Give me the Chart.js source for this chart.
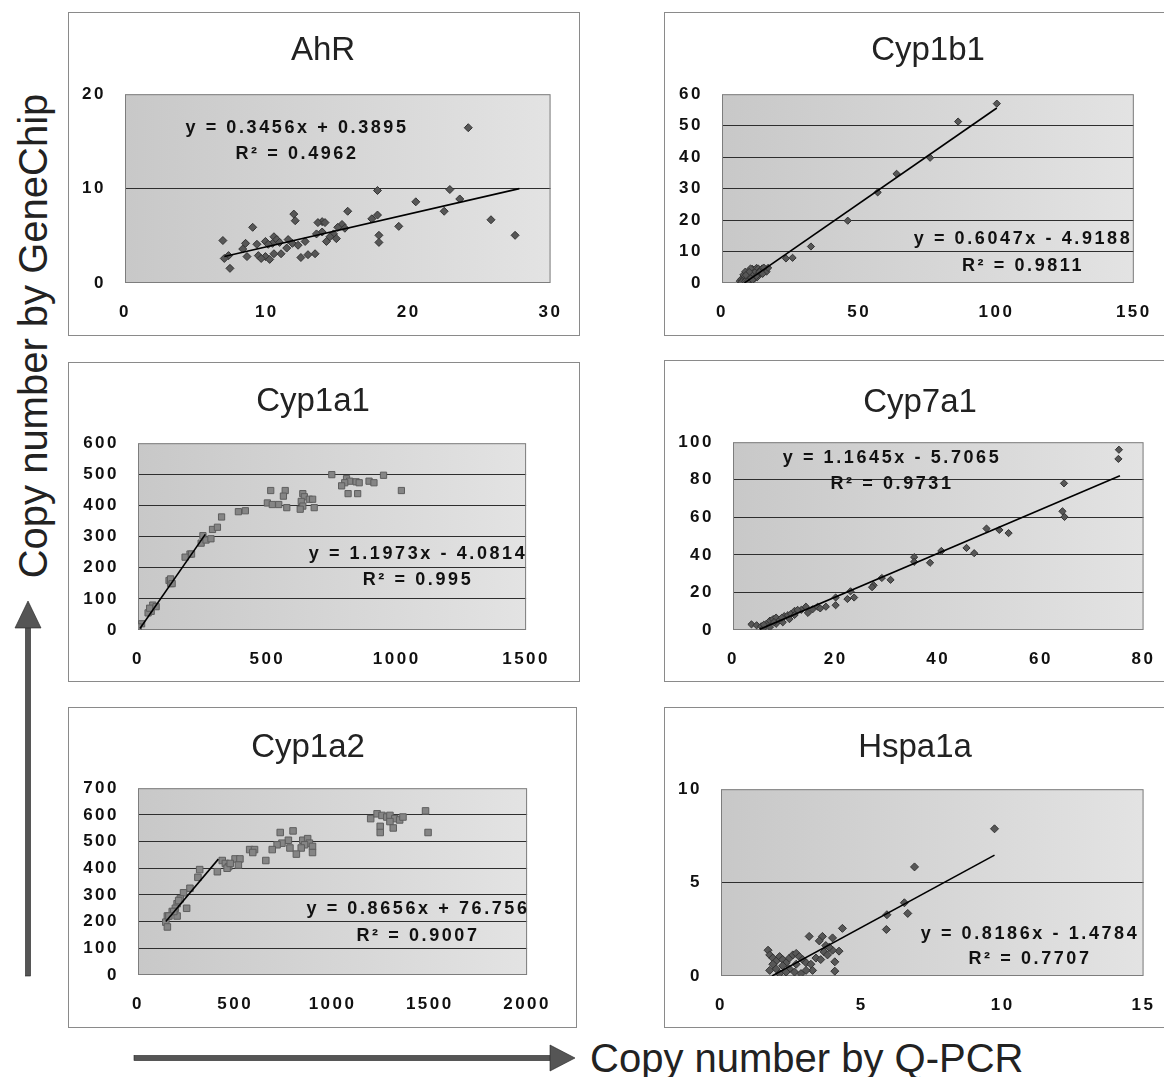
<!DOCTYPE html>
<html lang="en">
<head>
  <meta charset="UTF-8">
  <title>Copy number: GeneChip vs Q-PCR</title>

  <!-- Chart.js -->
  <script src="https://cdn.jsdelivr.net/npm/chart.js"></script>

  <style>
    body {
      margin: 0;
      width: 1164px;
      height: 1077px;
      position: relative;
      overflow: hidden;
      background: #fff;
      font-family: "Liberation Sans", Arial, sans-serif;
    }
    .frame { position: absolute; border: 1px solid #8a8a8a; }
    canvas { position: absolute; }
    .title {
      position: absolute;
      font-size: 33px;
      color: #222;
      line-height: 1;
      white-space: nowrap;
      transform: translate(-50%, -50%);
    }
    .eq {
      position: absolute;
      font-size: 18px;
      font-weight: bold;
      letter-spacing: 2.6px;
      color: #111;
      line-height: 1;
      white-space: nowrap;
      transform: translate(-50%, -50%);
    }
    .axis-label {
      position: absolute;
      font-size: 40px;
      color: #222;
      line-height: 1;
      white-space: nowrap;
    }
  </style>
</head>

<body>

<svg width="1164" height="1077" style="position:absolute;left:0;top:0;">
  <rect x="25.5" y="626" width="5" height="350" fill="#555" stroke="#222" stroke-width="0.6"/>
  <polygon points="15,628 41,628 28,601" fill="#555" stroke="#222" stroke-width="0.6"/>
  <rect x="134" y="1055.5" width="418" height="5" fill="#555" stroke="#222" stroke-width="0.6"/>
  <polygon points="550,1045 550,1071 575,1058" fill="#555" stroke="#222" stroke-width="0.6"/>
</svg>

<div class="axis-label" style="left:33px; top:336px; transform:translate(-50%,-50%) rotate(-90deg);">Copy number by GeneChip</div>
<div class="axis-label" style="left:590px; top:1058px; transform:translate(0,-50%);">Copy number by Q-PCR</div>

<script>
// ---- data ----
const genes = ['AhR', 'Cyp1b1', 'Cyp1a1', 'Cyp7a1', 'Cyp1a2', 'Hspa1a'];

const ahrX = [24.2, 17.8, 22.9, 23.6, 20.5, 22.5, 25.8, 27.5, 19.3, 17.8, 17.4, 17.9, 17.9, 15.7, 15.3, 15.0, 14.7, 14.45,
  14.2, 13.9, 13.6, 14.1, 13.9, 13.5, 11.9, 12.0, 12.7, 11.5, 11.4, 13.4, 12.9, 12.4, 11.0, 10.5, 10.7, 10.4, 9.9, 10.1,
  10.5, 9.9, 9.4, 9.6, 9.0, 9.3, 8.5, 8.3, 8.6, 6.9, 7.3, 7.0, 7.4, 10.2, 11.8, 15.5, 14.9, 12.2, 10.9];
const ahrY = [16.45, 9.8, 9.9, 8.9, 8.6, 7.6, 6.7, 5.05, 6.0, 7.2, 6.8, 5.05, 4.3, 7.6, 6.2, 5.9, 5.2, 4.9,
  4.4, 6.5, 6.4, 6.4, 5.4, 5.2, 7.3, 6.6, 4.4, 4.6, 3.7, 3.1, 3.0, 2.7, 3.1, 4.9, 4.6, 4.2, 4.4, 4.1,
  3.1, 2.8, 2.9, 2.6, 5.9, 4.1, 4.2, 3.6, 2.8, 4.5, 2.9, 2.6, 1.55, 2.5, 4.2, 5.8, 4.7, 4.0, 4.3];

const cyp1b1X = [100.1, 86.0, 75.8, 63.6, 56.7, 45.8, 32.4, 23.3, 25.7,
  6.5, 7.0, 7.5, 8.0, 8.2, 8.8, 9.0, 9.3, 9.6, 10.0, 10.2, 10.5, 10.8, 11.0, 11.3, 11.6, 12.0, 12.3, 12.6, 13.0,
  13.4, 13.8, 14.2, 14.6, 15.0, 15.5, 16.2, 7.8, 9.8, 11.8, 8.5, 10.4, 12.8, 16.8,
  7.2, 8.4, 9.2, 10.6, 11.4, 12.2, 13.2, 14.0, 15.2, 9.9, 8.7, 11.1, 12.5, 13.6, 14.8];
const cyp1b1Y = [57.0, 51.3, 39.8, 34.7, 28.8, 19.8, 11.6, 7.8, 8.0,
  0.6, 1.2, 0.8, 1.5, 2.2, 1.0, 2.8, 1.8, 3.2, 2.4, 1.2, 3.8, 2.8, 4.5, 2.0, 3.4, 4.0, 2.6, 4.8, 3.2,
  4.2, 2.8, 3.8, 4.6, 3.4, 4.2, 3.6, 2.6, 0.8, 1.4, 3.6, 4.6, 1.8, 4.8,
  0.3, 0.5, 0.4, 1.6, 3.0, 3.6, 4.6, 4.1, 4.9, 3.5, 2.5, 1.0, 2.2, 3.5, 2.9];

const cyp1a1X = [749, 806, 818, 799, 787, 843, 855, 893, 912, 949, 1018, 812, 849, 513, 569, 562, 637, 643, 662, 675,
  631, 637, 627, 681, 500, 519, 544, 575, 388, 415, 323, 288, 307, 251, 244, 263, 282, 201, 182, 207,
  120, 126, 126, 132, 57, 51, 39, 45, 70, 14, 1];
const cyp1a1Y = [499, 486, 478, 473, 463, 476, 473, 478, 473, 497, 448, 438, 438, 448, 448, 430, 438, 428, 420, 420,
  413, 398, 388, 393, 408, 403, 403, 393, 380, 383, 363, 323, 330, 303, 279, 289, 293, 244, 234, 244,
  159, 149, 164, 149, 80, 60, 55, 70, 75, 20, 10];

const cyp7a1X = [75.2, 75.1, 64.5, 64.2, 64.6, 53.7, 51.9, 49.4, 47.0, 45.5, 40.6, 38.4, 35.3, 35.3, 30.7, 29.0, 27.4,
  27.1, 22.9, 22.3, 23.6, 20.0, 20.0, 18.1, 16.5, 14.2, 14.6, 13.3, 3.6, 4.6, 5.5, 6.5, 7.2, 7.8, 8.4, 9.1,
  10.0, 10.7, 11.3, 12.0, 12.6, 5.9, 7.2, 8.4, 9.7, 11.0, 6.0, 8.0, 9.5, 12.0, 15.5, 17.0];
const cyp7a1Y = [96.0, 91.1, 78.1, 63.2, 60.2, 51.6, 53.3, 54.0, 40.9, 43.7, 42.1, 35.8, 38.8, 36.3, 26.7, 27.7, 23.8,
  22.8, 20.6, 16.5, 17.3, 17.3, 13.2, 12.4, 12.4, 12.4, 9.1, 10.7, 3.0, 2.5, 2.0, 3.3, 5.0, 5.8, 6.6, 5.3,
  7.4, 7.9, 8.6, 10.2, 10.7, 0.8, 1.6, 3.3, 4.1, 5.8, 2.8, 4.2, 6.5, 8.0, 11.0, 11.5];

const cyp1a2X = [1478, 1491, 1196, 1229, 1254, 1279, 1295, 1320, 1345, 1362, 1295, 1245, 1245, 1312, 731, 797, 773,
  740, 715, 847, 872, 881, 856, 897, 839, 781, 814, 897, 690, 657, 574, 599, 590, 499, 524, 516, 433, 449,
  466, 458, 474, 408, 317, 308, 267, 234, 217, 201, 192, 176, 250, 151, 143, 151, 201, 184, 209, 159];
const cyp1a2Y = [615, 534, 586, 604, 598, 592, 598, 586, 581, 592, 575, 557, 534, 551, 534, 540, 505,
  494, 488, 505, 511, 494, 488, 482, 476, 476, 453, 459, 470, 429, 470, 470, 459, 435, 435, 412, 429, 418,
  406, 400, 418, 387, 395, 366, 325, 308, 285, 267, 250, 238, 250, 221, 198, 180, 221, 238, 279, 221];

const hspa1aX = [9.71, 6.87, 6.51, 6.63, 5.89, 5.87, 4.31, 3.96, 3.60, 3.49, 3.13, 4.19, 3.96, 3.72, 3.84, 3.66,
  3.78, 4.04, 4.04, 3.37, 3.54, 3.25, 1.67, 1.73, 1.84, 1.96, 2.08, 2.19, 2.31, 2.43, 2.55, 2.67, 2.78, 2.90,
  3.02, 1.73, 1.96, 2.19, 2.43, 2.61, 2.84, 3.02, 3.19, 2.31, 2.67, 1.84, 2.08];
const hspa1aY = [7.88, 5.84, 3.92, 3.35, 3.28, 2.49, 2.55, 2.04, 2.12, 1.88, 2.12, 1.33, 1.38, 1.63, 1.54, 1.29,
  1.13, 0.76, 0.26, 0.96, 0.88, 0.30, 1.38, 1.13, 0.96, 0.80, 1.04, 0.88, 0.71, 0.96, 1.13, 1.21, 1.04, 0.88,
  0.71, 0.30, 0.38, 0.55, 0.38, 0.21, 0.13, 0.30, 0.63, 0.21, 0.63, 0.63, 0.13];

// trend lines (from the printed equations) and the x span they cover
const slopes     = [0.3456, 0.6047, 1.1973, 1.1645, 0.8656, 0.8186];
const intercepts = [0.3895, -4.9188, -4.0814, -5.7065, 76.756, -1.4784];
const fitFrom    = [7.0, 8.2, 7.5, 5.2, 143, 1.81];
const fitTo      = [27.8, 100.1, 260, 75.4, 413, 9.71];
const eqLine1 = ['y = 0.3456x + 0.3895', 'y = 0.6047x - 4.9188', 'y = 1.1973x - 4.0814',
                 'y = 1.1645x - 5.7065', 'y = 0.8656x + 76.756', 'y = 0.8186x - 1.4784'];
const eqLine2 = ['R² = 0.4962', 'R² = 0.9811', 'R² = 0.995', 'R² = 0.9731', 'R² = 0.9007', 'R² = 0.7707'];

// axis ranges
const xMax  = [30, 150, 1500, 80, 2000, 15];
const xStep = [10, 50, 500, 20, 500, 5];
const yMax  = [20, 60, 600, 100, 700, 10];
const yStep = [10, 10, 100, 20, 100, 5];

const seriesX = [ahrX, cyp1b1X, cyp1a1X, cyp7a1X, cyp1a2X, hspa1aX];
const seriesY = [ahrY, cyp1b1Y, cyp1a1Y, cyp7a1Y, cyp1a2Y, hspa1aY];

// ---- layout (page pixels) ----
const plotBoxes = [
  [125, 80, 554, 283],
  [722, 80, 1142, 283],
  [138, 429, 539, 630],
  [733, 428, 1147, 630],
  [138, 774, 540, 975],
  [721, 775, 1147, 976]
];
const frames = [
  [68, 12, 578, 334], [664, 12, 1170, 334],
  [68, 362, 578, 680], [664, 360, 1170, 680],
  [68, 707, 575, 1026], [664, 707, 1170, 1026]
];
const titlePos = [[323, 48], [928, 48], [313, 399], [920, 400], [308, 745], [915, 745]];
const eqPos = [[297, 127, 153], [1023, 238, 265], [418, 553, 579], [892, 457, 483], [418, 908, 935], [1030, 933, 958]];
const markers = ['rectRot', 'rectRot', 'rect', 'rectRot', 'rect', 'rectRot'];
const markerSize = [4, 3.6, 4.4, 3.6, 4.6, 4];

const Y_AXIS_W = 80, X_AXIS_H = 50, PAD_TOP = 15, PAD_RIGHT = 25;
const tickFont = { family: '"Liberation Sans", Arial, sans-serif', size: 17, weight: 'bold' };

const plotBg = {
  id: 'plotBg',
  beforeDraw(chart) {
    const { ctx, chartArea: a } = chart;
    ctx.letterSpacing = '2.5px';
    ctx.save();
    const g = ctx.createLinearGradient(a.left, 0, a.right, 0);
    g.addColorStop(0, '#c8c8c8');
    g.addColorStop(1, '#e3e3e3');
    ctx.fillStyle = g;
    ctx.fillRect(a.left, a.top, a.width, a.height);
    ctx.restore();
  },
  beforeDatasetsDraw(chart) {
    const { ctx, chartArea: a } = chart;
    ctx.save();
    ctx.strokeStyle = '#7d7d7d';
    ctx.lineWidth = 1;
    ctx.strokeRect(a.left + 0.5, a.top + 0.5, a.width - 1, a.height - 1);
    ctx.restore();
  }
};

function addDiv(cls, text, x, y) {
  const d = document.createElement('div');
  d.className = cls;
  d.textContent = text;
  d.style.left = x + 'px';
  d.style.top = y + 'px';
  document.body.appendChild(d);
}

frames.forEach(f => {
  const d = document.createElement('div');
  d.className = 'frame';
  d.style.left = f[0] + 'px';
  d.style.top = f[1] + 'px';
  d.style.width = (f[2] - f[0]) + 'px';
  d.style.height = (f[3] - f[1]) + 'px';
  document.body.appendChild(d);
});

genes.forEach((gene, i) => {
  const [L, T, R, B] = plotBoxes[i];
  const canvas = document.createElement('canvas');
  canvas.width = (R - L) + Y_AXIS_W + PAD_RIGHT;
  canvas.height = (B - T) + PAD_TOP + X_AXIS_H;
  canvas.style.left = (L - Y_AXIS_W) + 'px';
  canvas.style.top = (T - PAD_TOP) + 'px';
  document.body.appendChild(canvas);

  const points = seriesX[i].map((x, k) => ({ x: x, y: seriesY[i][k] }));
  const trend = [fitFrom[i], fitTo[i]].map(x => ({ x: x, y: slopes[i] * x + intercepts[i] }));
  const square = markers[i] === 'rect';

  new Chart(canvas.getContext('2d'), {
    type: 'scatter',
    data: {
      datasets: [{
        data: points,
        order: 1,
        pointStyle: markers[i],
        pointRadius: markerSize[i],
        backgroundColor: square ? '#858585' : '#575757',
        borderColor: square ? '#5e5e5e' : '#333',
        borderWidth: 1
      }, {
        data: trend,
        order: 0,
        showLine: true,
        pointRadius: 0,
        borderColor: '#000',
        borderWidth: 1.6
      }]
    },
    options: {
      responsive: false,
      animation: false,
      layout: { padding: { top: PAD_TOP, right: PAD_RIGHT, left: 0, bottom: 0 } },
      plugins: { legend: { display: false }, tooltip: { enabled: false } },
      scales: {
        x: {
          type: 'linear', min: 0, max: xMax[i],
          ticks: { stepSize: xStep[i], padding: 19, color: '#111', font: tickFont, maxRotation: 0, callback: v => String(v) },
          grid: { display: false, drawTicks: false },
          border: { display: false },
          afterFit(s) { s.height = X_AXIS_H; }
        },
        y: {
          type: 'linear', min: 0, max: yMax[i],
          ticks: { stepSize: yStep[i], padding: 19, color: '#111', font: tickFont, callback: v => String(v) },
          grid: {
            drawTicks: false,
            lineWidth: 1,
            color: c => (c.tick && c.tick.value > 0 && c.tick.value < yMax[i]) ? '#2e2e2e' : 'rgba(0,0,0,0)'
          },
          border: { display: false },
          afterFit(s) { s.width = Y_AXIS_W; }
        }
      }
    },
    plugins: [plotBg]
  });

  addDiv('title', gene, titlePos[i][0], titlePos[i][1]);
  addDiv('eq', eqLine1[i], eqPos[i][0], eqPos[i][1]);
  addDiv('eq', eqLine2[i], eqPos[i][0], eqPos[i][2]);
});
</script>

</body>
</html>
